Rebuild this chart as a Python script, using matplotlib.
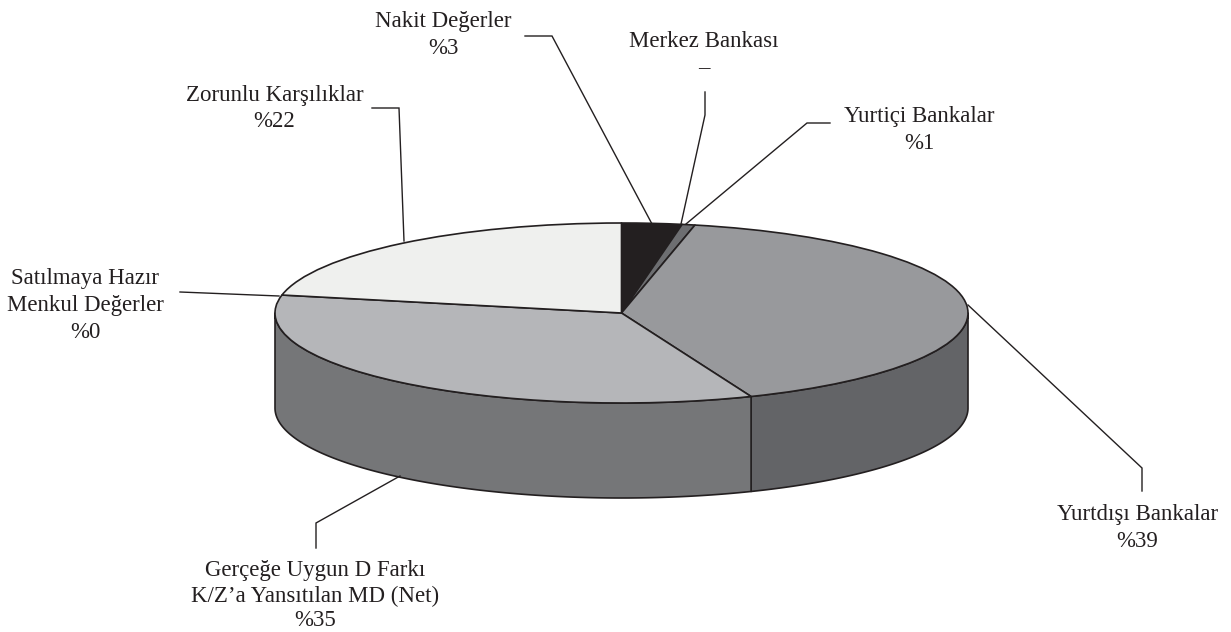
import numpy as np
import matplotlib
matplotlib.use("Agg")
import matplotlib.pyplot as plt
from matplotlib.patches import Wedge, Polygon
from matplotlib.transforms import Affine2D

plt.rcParams['font.family'] = ['Liberation Serif', 'DejaVu Serif']

# Slice shares, clockwise from 12 o'clock
categories = ["Nakit Değerler", "Merkez Bankası", "Yurtiçi Bankalar", "Yurtdışı Bankalar",
              "Gerçeğe Uygun D Farkı", "Satılmaya Hazır", "Zorunlu Karşılıklar"]
shares = [2.8, 0.0, 0.6, 40.5, 34.3, 0.0, 21.8]
top_colors = ["#231f20", "#6d6e71", "#6d6e71", "#98999c", "#b5b6b9", "#b5b6b9", "#eff0ee"]
side_colors = ["#231f20", "#6d6e71", "#6d6e71", "#636467", "#757678", "#757678", "#eff0ee"]

# Label lines as printed: text, centre x, baseline y
label_lines = [
    ("Nakit Değerler", 443.5, 27), ("%3", 443, 54),
    ("Merkez Bankası", 703.5, 47), ("–", 704, 74),
    ("Zorunlu Karşılıklar", 274.5, 101), ("%22", 274, 127),
    ("Yurtiçi Bankalar", 919, 122), ("%1", 919, 149),
    ("Satılmaya Hazır", 85, 284), ("Menkul Değerler", 85.5, 311), ("%0", 85, 338),
    ("Yurtdışı Bankalar", 1137.5, 520), ("%39", 1137, 547),
    ("Gerçeğe Uygun D Farkı", 315, 576), ("K/Z’a Yansıtılan MD (Net)", 315, 602), ("%35", 315, 626),
]
leaders = [
    ([525, 552, 652], [36, 36, 224]),
    ([705, 705, 681], [92, 115, 224]),
    ([830, 807, 686], [123, 123, 224]),
    ([372, 399, 404], [108, 108, 241]),
    ([180, 279], [292, 296]),
    ([968, 1142, 1142], [305, 468, 491]),
    ([400, 316, 316], [476, 523, 548]),
]

CX, CY, RX, RY, DEPTH = 621.5, 313, 346.5, 90, 95
EDGE = "#231f20"

fig = plt.figure(figsize=(12.31, 6.32), dpi=100)
ax = fig.add_axes([0, 0, 1, 1])
ax.set_xlim(0, 1231)
ax.set_ylim(632, 0)
ax.axis("off")

boundaries = 90 - np.cumsum([0] + shares) * 3.6  # degrees, math convention, clockwise
to_screen = Affine2D().scale(RX, -RY).translate(CX, CY) + ax.transData

# Side wall: only the part of each slice on the front half (theta in [-180, 0])
for i in range(len(shares)):
    th_hi = min(float(boundaries[i]), 0.0)
    th_lo = max(float(boundaries[i + 1]), -180.0)
    if th_hi <= th_lo:
        continue
    th = np.radians(np.linspace(th_hi, th_lo, 200))
    x = CX + RX * np.cos(th)
    y = CY - RY * np.sin(th)
    pts = np.column_stack([np.r_[x, x[::-1]], np.r_[y, y[::-1] + DEPTH]])
    ax.add_patch(Polygon(pts, closed=True, facecolor=side_colors[i], edgecolor=EDGE,
                         linewidth=1.2, joinstyle="round", zorder=1))

# Top face
for i in range(len(shares)):
    if shares[i] <= 0:
        continue
    ax.add_patch(Wedge((0, 0), 1, boundaries[i + 1], boundaries[i],
                       transform=to_screen, facecolor=top_colors[i], edgecolor=EDGE,
                       linewidth=1.2, joinstyle="round", zorder=2))

for xs, ys in leaders:
    ax.plot(xs, ys, color=EDGE, lw=1.0, solid_joinstyle="miter", zorder=3)

for text, x, y in label_lines:
    ax.text(x, y, text, ha="center", va="baseline", fontsize=16.5, color=EDGE, zorder=4)

fig.savefig("out.png", dpi=100, facecolor="white")
